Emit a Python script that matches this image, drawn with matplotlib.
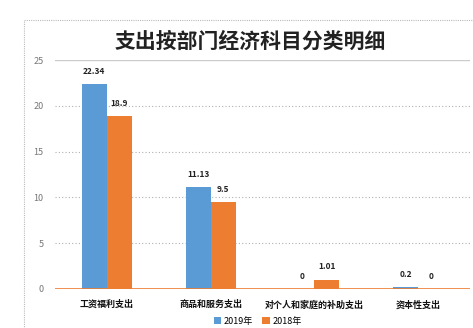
# -*- coding:utf-8 -*-
import numpy as np
import matplotlib
matplotlib.use('Agg')
import matplotlib.pyplot as plt
from matplotlib.patches import Rectangle

plt.rcParams['font.family'] = ['Noto Sans CJK SC', 'DejaVu Sans']

categories = ['工资福利支出', '商品和服务支出', '对个人和家庭的补助支出', '资本性支出']
values_2019 = [22.34, 11.13, 0, 0.2]
values_2018 = [18.9, 9.5, 1.01, 0]
labels_2019 = ['22.34', '11.13', '0', '0.2']
labels_2018 = ['18.9', '9.5', '1.01', '0']
yticks = [0, 5, 10, 15, 20, 25]

blue = '#5B9BD5'
orange = '#ED7D31'

fig = plt.figure(figsize=(4.73, 3.28), dpi=100)
ax = fig.add_axes([0.116, 0.119, 0.878, 0.698])

x = np.arange(len(categories))
w = 0.24
b1 = ax.bar(x - w / 2, values_2019, w, color=blue, label='2019年', zorder=3)
b2 = ax.bar(x + w / 2, values_2018, w, color=orange, label='2018年', zorder=3)

for bars, labs in ((b1, labels_2019), (b2, labels_2018)):
    for r, t in zip(bars, labs):
        ax.text(r.get_x() + r.get_width() / 2, r.get_height() + 0.9, t,
                ha='center', va='bottom', fontsize=6, fontweight='bold', color='#222222')

ax.set_xlim(-0.5, len(categories) - 0.5)
ax.set_ylim(0, 25)
ax.set_yticks(yticks)
ax.set_yticklabels([str(v) for v in yticks], fontsize=6.5, color='#777777')
ax.set_xticks(x)
ax.set_xticklabels(categories, fontsize=6.5, fontweight='bold', color='#111111')
ax.tick_params(length=0, pad=8)
ax.tick_params(axis='y', pad=8)

for v in yticks[1:-1]:
    ax.axhline(v, color='#b0b0b0', lw=0.8, ls=(0, (1, 2)), zorder=1)
ax.axhline(25, color='#cccccc', lw=1, zorder=1)
ax.axhline(0, color=orange, lw=1.2, zorder=4)
for s in ax.spines.values():
    s.set_visible(False)

fig.text(0.53, 0.873, '支出按部门经济科目分类明细', ha='center', va='center',
         fontsize=15, fontweight='bold', color='#222222')

fig.patches.append(Rectangle((24 / 473, -0.1), 1.2, 1 - 20 / 328 + 0.1,
                             transform=fig.transFigure, fill=False,
                             edgecolor='#bbbbbb', lw=0.8, ls=(0, (1, 1))))

leg = fig.legend(handles=[b1, b2], loc='center', bbox_to_anchor=(0.545, 0.02),
                 ncol=2, frameon=False, fontsize=6.5, handlelength=0.8,
                 handleheight=0.8, columnspacing=1.0, handletextpad=0.3)

fig.savefig('out.png', dpi=100)
